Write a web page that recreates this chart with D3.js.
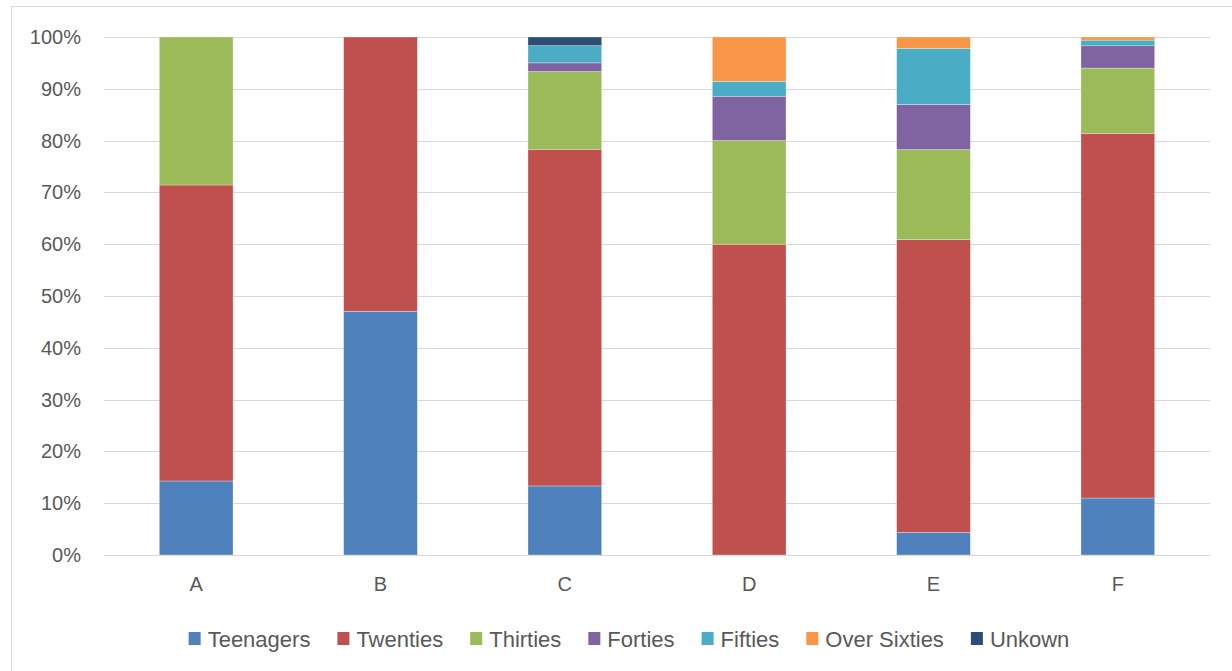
<!DOCTYPE html>
<html><head><meta charset="utf-8">
<script src="https://cdn.jsdelivr.net/npm/d3@7"></script>
<style>body{margin:0;background:#fff}svg{display:block}</style>
</head><body><svg id="c" width="1232" height="671"></svg>
<script>
const categories = ["A","B","C","D","E","F"];
const seriesNames = ["Teenagers","Twenties","Thirties","Forties","Fifties","Over Sixties","Unkown"];
const teenagers   = [14.29, 47.06, 13.33, 0,     4.35, 11.0];
const twenties    = [57.14, 52.94, 65.0,  60.0, 56.52, 70.4];
const thirties    = [28.57, 0,     15.0,  20.0, 17.39, 12.6];
const forties     = [0,     0,     1.67,  8.57,  8.70,  4.3];
const fifties     = [0,     0,     3.33,  2.86, 10.87,  1.1];
const overSixties = [0,     0,     0,     8.57,  2.17,  0.6];
const unknown     = [0,     0,     1.67,  0,     0,     0];
const yTicks = [0,10,20,30,40,50,60,70,80,90,100];
const colors = ["#4F81BD","#C0504D","#9BBB59","#8064A2","#4BACC6","#F79646","#2C4D75"];

const seriesValues = [teenagers, twenties, thirties, forties, fifties, overSixties, unknown];
const rows = categories.map((c,i)=>{const r={cat:c}; seriesNames.forEach((s,j)=>r[s]=seriesValues[j][i]); return r;});
const stack = d3.stack().keys(seriesNames)(rows);

const svg = d3.select("#c");
const font = "'Liberation Sans', Arial, sans-serif";
svg.append("rect").attr("x",11.5).attr("y",6.5).attr("width",1240).attr("height",700)
  .attr("fill","#fff").attr("stroke","#d9d9d9").attr("stroke-width",1);

const x = d3.scaleBand().domain(categories).range([104,1210]).paddingInner(0.6).paddingOuter(0.3);
const y = d3.scaleLinear().domain([0,100]).range([555,37]);

const grid = svg.append("g");
grid.selectAll("line").data(yTicks).join("line")
  .attr("x1",104).attr("x2",1210)
  .attr("y1",d=>Math.round(y(d))+0.5).attr("y2",d=>Math.round(y(d))+0.5)
  .attr("stroke","#d9d9d9").attr("stroke-width",1);

const yAxis = svg.append("g").attr("transform","translate(104,0)")
  .call(d3.axisLeft(y).tickValues(yTicks).tickFormat(d=>d+"%").tickSize(0).tickPadding(23));
yAxis.select(".domain").remove();
yAxis.selectAll("text").attr("font-family",font).attr("font-size",20).attr("fill","#595959");

const xAxis = svg.append("g").attr("transform","translate(0,555)")
  .call(d3.axisBottom(x).tickSize(0).tickPadding(22));
xAxis.select(".domain").remove();
xAxis.selectAll("text").attr("font-family",font).attr("font-size",20).attr("fill","#595959");

svg.append("g").selectAll("g").data(stack).join("g")
  .attr("fill",(d,i)=>colors[i])
  .selectAll("rect").data(d=>d).join("rect")
  .attr("x",d=>x(d.data.cat)).attr("width",x.bandwidth())
  .attr("y",d=>y(d[1])).attr("height",d=>Math.max(0,y(d[0])-y(d[1])))
  .attr("stroke","#fff").attr("stroke-width",0.5).attr("stroke-opacity",d=>(d[1]-d[0])>0?0.6:0);

// legend
const leg = svg.append("g");
let cx = 0;
seriesNames.forEach((s,i)=>{
  const g = leg.append("g");
  g.append("rect").attr("x",0).attr("y",-7).attr("width",12).attr("height",13).attr("fill",colors[i]);
  const t = g.append("text").attr("x",19).attr("y",8).text(s)
    .attr("font-family",font).attr("font-size",22).attr("fill","#595959");
  const w = t.node().getComputedTextLength();
  g.attr("transform",`translate(${cx},639)`);
  cx += 19 + w + 27;
});
const total = cx - 27;
leg.attr("transform",`translate(${629 - total/2},0)`);
</script></body></html>
